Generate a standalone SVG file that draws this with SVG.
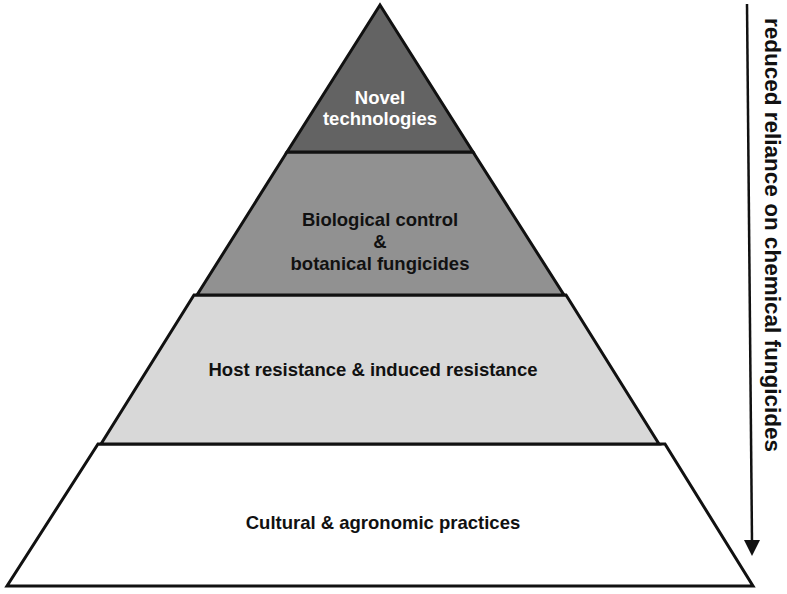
<svg xmlns="http://www.w3.org/2000/svg" width="787" height="594" viewBox="0 0 787 594">
<defs>
<style>
.t{font-family:"Liberation Sans",Arial,sans-serif;font-weight:bold;font-size:18.5px;text-anchor:middle;fill:#111}
.w{fill:#fff}
.tier{stroke:#111;stroke-width:3;stroke-linejoin:miter}
</style>
</defs>
<rect width="787" height="594" fill="#fff"/>
<g id="tier4"><polygon class="tier" points="98,444 665,444 753,586 7,586" fill="#fff"/><text class="t" x="383" y="529">Cultural &amp; agronomic practices</text></g>
<g id="tier3"><polygon class="tier" points="194,295 566,295 659,444 101,444" fill="#d8d8d8"/><text class="t" x="373" y="376">Host resistance &amp; induced resistance</text></g>
<g id="tier2"><polygon class="tier" points="287,152 473,152 564,295 197,295" fill="#919191"/><text class="t" x="380" y="226">Biological control</text><text class="t" x="380" y="248">&amp;</text><text class="t" x="380" y="270">botanical fungicides</text></g>
<g id="tier1"><polygon class="tier" points="380,5 473,152 287,152" fill="#636363"/><text class="t w" x="380" y="104">Novel</text><text class="t w" x="380" y="125">technologies</text></g>
<g id="connectors"><line x1="747" y1="4" x2="752" y2="542" stroke="#111" stroke-width="2.5"/><polygon points="744,540 760,540 752,556" fill="#111"/></g>
<g id="label"><text class="t" style="font-size:22.5px" transform="translate(765,235) rotate(90)">reduced reliance on chemical fungicides</text></g>
</svg>
